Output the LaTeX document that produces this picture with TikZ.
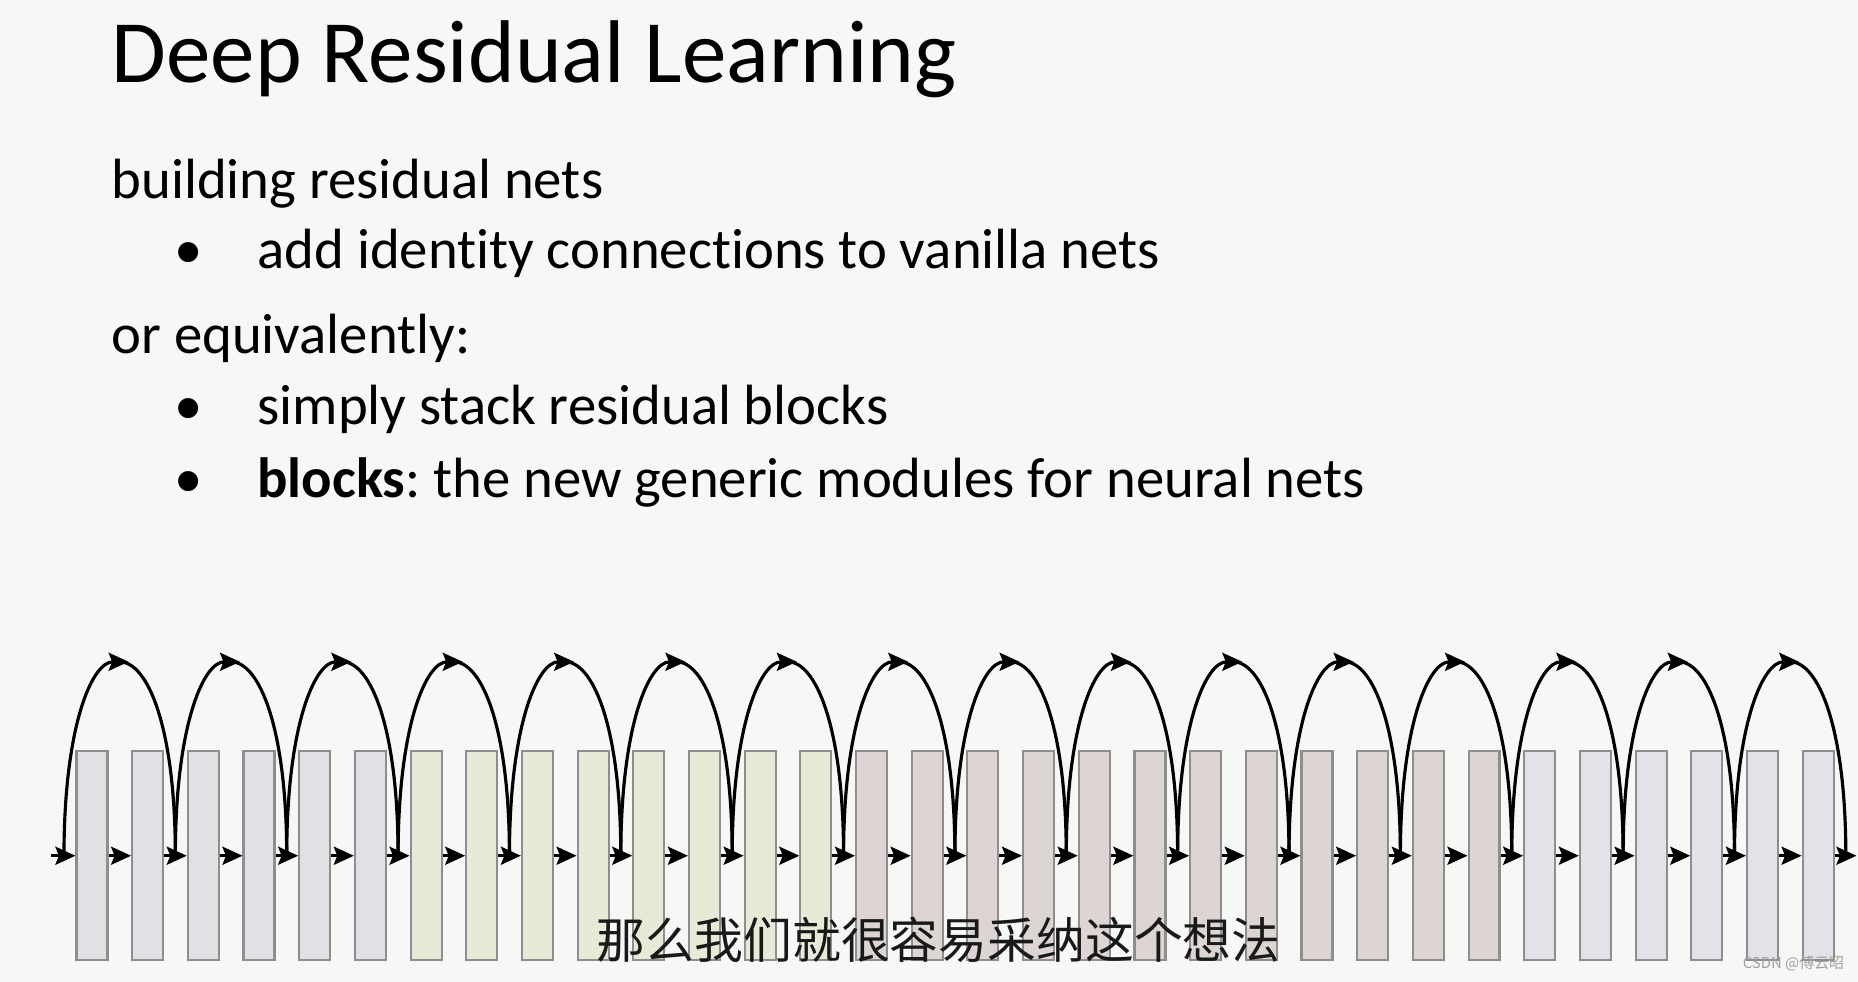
\documentclass[tikz,border=0pt]{standalone}
\usepackage{fontspec}
\setmainfont[Ligatures=NoCommon]{Carlito}
\newfontfamily\cjk{Noto Sans CJK SC}
\usetikzlibrary{arrows.meta}
\definecolor{rnbg}{HTML}{F7F7F5}
\definecolor{rngray}{HTML}{E1E1E5}
\definecolor{rngreen}{HTML}{E6EAD6}
\definecolor{rnpink}{HTML}{DDD4D4}
\definecolor{rnblue}{HTML}{E2E3E8}
\definecolor{rnedge}{HTML}{8E8E8E}
\frenchspacing

\begin{document}
\begin{tikzpicture}[x=0.02cm, y=-0.02cm, line width=1.8pt, >={Stealth[length=4mm, width=3.6mm, inset=0.7mm]},
  layer/.style={draw=rnedge, line width=1.2pt, minimum width=0.62cm, minimum height=4.18cm, inner sep=0pt},
  bodytext/.style={anchor=base west, font=\fontsize{32.3pt}{38pt}\selectfont, inner sep=0pt}]
  % background and frame
  \fill[rnbg] (0,0) rectangle (1858,982);
  % slide text
  \node[anchor=base west, inner sep=0pt, font=\fontsize{50.7pt}{60pt}\selectfont] (title) at (110,83) {Deep Residual Learning};
  \node[bodytext] (l1) at (110,199) {building residual nets};
  \node[bodytext, anchor=base] (d1) at (189,269) {\textbullet};
  \node[bodytext] (l2) at (256,269) {add identity connections to vanilla nets};
  \node[bodytext] (l3) at (110,354) {or equivalently:};
  \node[bodytext, anchor=base] (d2) at (189,425) {\textbullet};
  \node[bodytext] (l4) at (256,425) {simply stack residual blocks};
  \node[bodytext, anchor=base] (d3) at (189,498) {\textbullet};
  \node[bodytext] (l5) at (256,498) {\textbf{blocks}: the new generic modules for neural nets};
  % stacked layers
  \foreach \i in {1,...,6}   \node[layer, fill=rngray]  (r\i) at ({92+(\i-1)*55.7},856) {};
  \foreach \i in {7,...,14}  \node[layer, fill=rngreen] (r\i) at ({92+(\i-1)*55.7},856) {};
  \foreach \i in {15,...,26} \node[layer, fill=rnpink]  (r\i) at ({92+(\i-1)*55.7},856) {};
  \foreach \i in {27,...,32} \node[layer, fill=rnblue]  (r\i) at ({92+(\i-1)*55.7},856) {};
  % main path
  \coordinate (in) at (51,856);
  \coordinate (out) at (1857,856);
  \draw[->] (in) -- (r1);
  \foreach \i [evaluate=\i as \j using int(\i+1)] in {1,...,31} \draw[->] (r\i) -- (r\j);
  \draw[->] (r32) -- (out);
  % identity shortcuts, arrow on top of each arch
  \foreach \k in {0,...,16} \coordinate (j\k) at ({64+\k*111.4},856);
  \foreach \k in {0,...,15} \coordinate (t\k) at ({119.7+\k*111.4},662);
  \foreach \k [evaluate=\k as \n using int(\k+1)] in {0,...,15} {
    \draw[->, shorten >=-0.18cm] (j\k) .. controls +(0,-129.5) and +(-27.85,0) .. (t\k);
    \draw (t\k) .. controls +(27.85,0) and +(0,-129.5) .. (j\n);
  }
  % captions
  \node[font=\cjk\fontsize{27.8pt}{30pt}\selectfont, text=black!90] (sub) at (939,940) {那么我们就很容易采纳这个想法};
  \node[font=\cjk\fontsize{8.5pt}{10pt}\selectfont, text=gray!75] (wm) at (1794,964) {CSDN @傅云昭};
\end{tikzpicture}
\end{document}
